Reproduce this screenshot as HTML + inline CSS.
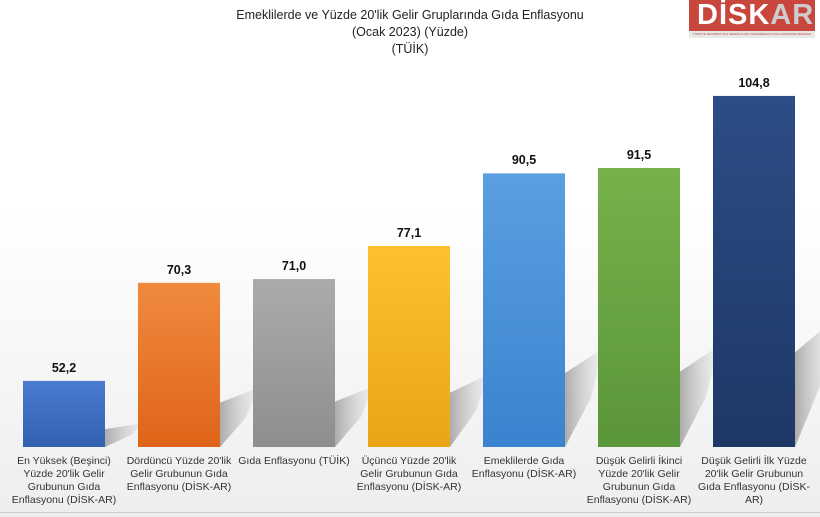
<!DOCTYPE html>
<html><head><meta charset="utf-8"><style>
body{margin:0;width:820px;height:517px;overflow:hidden;font-family:"Liberation Sans",sans-serif;background:#fff}
#wrap{position:relative;width:820px;height:517px;background:linear-gradient(#fff 0%,#fff 40%,#eeeeee 100%)}
.t{position:absolute;left:0;width:820px;text-align:center;font-size:12.5px;color:#222}
.lbl{position:absolute;width:116px;text-align:center;font-size:10.5px;line-height:13px;color:#333}
.val{position:absolute;width:82px;text-align:center;font-size:12.5px;font-weight:bold;color:#111}
#logo{position:absolute;left:689px;top:0;width:126px;height:38px;background:#c9463d;overflow:hidden}
</style></head><body>
<div id="wrap">
<div class="t" style="top:8px">Emeklilerde ve Yüzde 20'lik Gelir Gruplarında Gıda Enflasyonu</div>
<div class="t" style="top:25px">(Ocak 2023) (Yüzde)</div>
<div class="t" style="top:42px">(TÜİK)</div>
<div id="logo">
<div style="position:absolute;left:8px;top:-1px;font-size:29px;font-weight:bold;color:#fff;letter-spacing:1px">DİSK<span style="color:#ccc">AR</span></div>
<div style="position:absolute;left:0;top:31px;width:126px;height:7px;background:#e8e8e8;font-size:3px;color:#b44;text-align:center;line-height:7px;white-space:nowrap">TÜRKİYE DEVRİMCİ İŞÇİ SENDİKALARI KONFEDERASYONU ARAŞTIRMA MERKEZİ</div>
</div>
<svg id="plot" width="820" height="517" style="position:absolute;left:0;top:0">
<defs>
<linearGradient id="sh" x1="0" x2="1"><stop offset="0" stop-color="#9a9a9a" stop-opacity=".8"/><stop offset="1" stop-color="#d0d0d0" stop-opacity="0.2"/></linearGradient>
</defs>
</svg>
<div style="position:absolute;left:0;top:512px;width:820px;height:1px;background:#ccc"></div>
</div>
<script>
const categories=["En Yüksek (Beşinci) Yüzde 20'lik Gelir Grubunun Gıda Enflasyonu (DİSK-AR)","Dördüncü Yüzde 20'lik Gelir Grubunun Gıda Enflasyonu (DİSK-AR)","Gıda Enflasyonu (TÜİK)","Üçüncü Yüzde 20'lik Gelir Grubunun Gıda Enflasyonu (DİSK-AR)","Emeklilerde Gıda Enflasyonu (DİSK-AR)","Düşük Gelirli İkinci Yüzde 20'lik Gelir Grubunun Gıda Enflasyonu (DİSK-AR)","Düşük Gelirli İlk Yüzde 20'lik Gelir Grubunun Gıda Enflasyonu (DİSK-AR)"];
const values=[52.2,70.3,71.0,77.1,90.5,91.5,104.8];
const labels=["52,2","70,3","71,0","77,1","90,5","91,5","104,8"];
const colors=[["#4a7bd0","#3461b0"],["#f08a3e","#df6418"],["#ababab","#8e8e8e"],["#fcc12f","#e9a516"],["#5a9fe0","#3a83cf"],["#75b249","#5a963a"],["#2d4d86","#1e3866"]];
const yMin=40,base=447,px=5.418;
const y=v=>base-(v-yMin)*px;
const x=i=>23+i*115;
const bw=82;
const svg=document.getElementById('plot'),wrap=document.getElementById('wrap');
const NS="http://www.w3.org/2000/svg";
const defs=svg.querySelector('defs');
values.forEach((v,i)=>{
  const g=document.createElementNS(NS,'linearGradient');
  g.setAttribute('id','g'+i);g.setAttribute('x1','0');g.setAttribute('y1','0');g.setAttribute('x2','0');g.setAttribute('y2','1');
  g.innerHTML=`<stop offset="0" stop-color="${colors[i][0]}"/><stop offset="1" stop-color="${colors[i][1]}"/>`;
  defs.appendChild(g);
  const top=y(v),h=base-top;
  const r0=x(i)+bw;
  const s=document.createElementNS(NS,'polygon');
  
  
  s.setAttribute('points',`${r0},${base} ${r0},${base-h*0.27} ${r0+38},${base-h*0.36} ${r0+26},${base-h*0.18}`);
  s.setAttribute('fill','url(#sh)');
  svg.appendChild(s);
});
values.forEach((v,i)=>{
  const top=y(v),h=base-top;
  const r=document.createElementNS(NS,'rect');
  
  
  r.setAttribute('x',x(i));r.setAttribute('y',top);r.setAttribute('width',bw);r.setAttribute('height',h);
  r.setAttribute('fill','url(#g'+i+')');
  svg.appendChild(r);
  const d=document.createElement('div');d.className='val';
  
  
  d.style.left=x(i)+'px';d.style.top=(top-20)+'px';d.textContent=labels[i];wrap.appendChild(d);
  const c=document.createElement('div');c.className='lbl';
  
  
  c.style.left=(x(i)+bw/2-58)+'px';c.style.top='455px';c.textContent=categories[i];wrap.appendChild(c);
});
</script>
</body></html>
